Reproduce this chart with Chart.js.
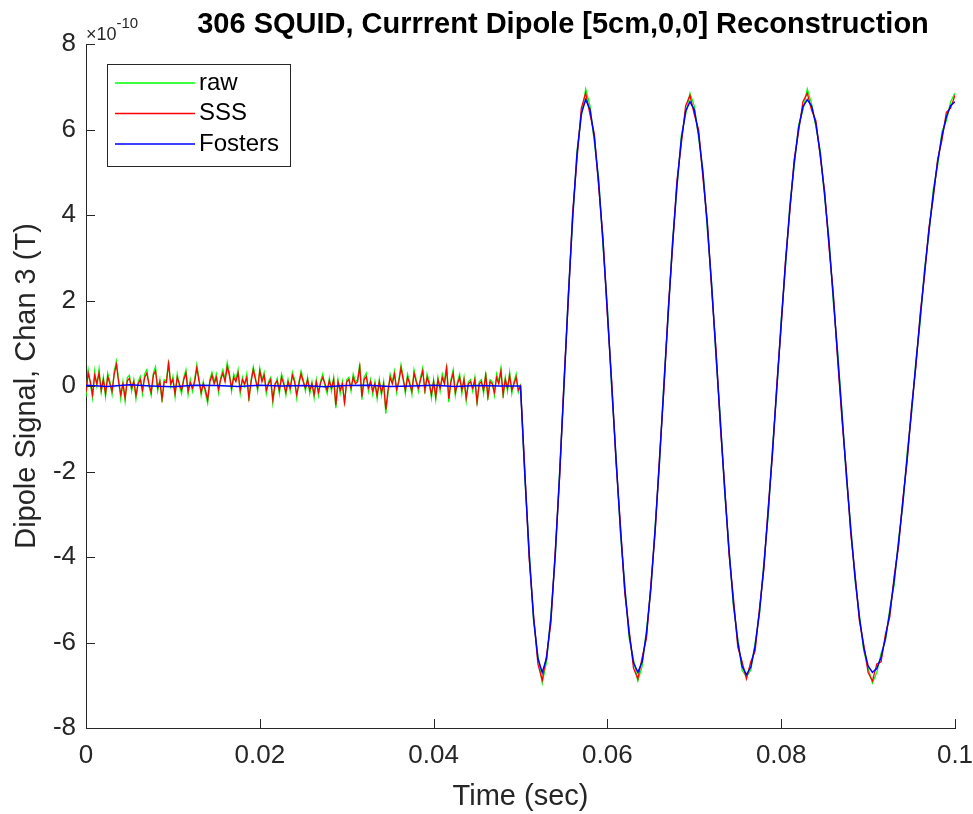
<!DOCTYPE html>
<html>
<head>
<meta charset="utf-8">
<script src="https://cdn.jsdelivr.net/npm/chart.js@4.4.0/dist/chart.umd.min.js"></script>
<style>
html,body{margin:0;padding:0;background:#fff}
#wrap{width:973px;height:814px}
</style>
</head>
<body>
<div id="wrap"><canvas id="c" width="973" height="814"></canvas></div>
<script>
// all signal values in units of 1e-10 T
const dtNoise=0.00025, dtFlat=0.0025, dtSine=0.0005, sineStart=0.05

// 0 .. 0.05 s, before the dipole is switched on
const sssNoise=[
-0.15,0.3,0.1,-0.2,0.25,0.05,0.3,-0.1,0.15,-0.18,0.22,0.05,-0.12,0.28,0.5,0.1,-0.2,0.05,-0.28,0.12,
0.18,-0.05,0.1,-0.22,0.05,0.15,-0.1,0.2,0.3,0.05,-0.15,0.25,0.35,-0.05,0.1,-0.3,0.1,0.08,0.52,0.05,
0.15,-0.18,0.2,0.05,-0.1,0.15,0.3,-0.12,0.08,-0.05,0.1,0.42,0.12,-0.15,0.05,-0.1,-0.32,0.1,0.25,0.05,
0.2,-0.08,0.15,0.3,0.1,0.45,0.25,-0.05,0.2,0.1,0.3,-0.1,0.15,0.05,0.2,-0.28,0.1,0.38,0.15,-0.05,
0.35,0.1,0.25,-0.1,0.05,0.15,-0.32,0.05,0.12,-0.1,0.2,0.05,-0.15,0.1,-0.05,0.25,0.1,-0.2,0.05,0.28,
0.1,-0.05,0.15,-0.1,0.05,-0.2,0.1,-0.15,0.08,0.2,0.05,-0.1,0.12,-0.05,0.15,-0.45,0.1,-0.1,0.05,-0.38,
0.1,0.15,-0.05,0.2,0.05,0.1,0.45,-0.25,0.15,0.22,-0.05,0.1,-0.12,0.05,-0.22,0.1,-0.15,0.05,-0.55,-0.1,
0.2,0.05,0.28,-0.08,0.1,0.42,0.15,-0.1,0.2,0.05,-0.12,0.3,0.1,-0.05,0.15,0.35,-0.1,0.2,0.05,-0.2,
0.1,-0.25,0.15,-0.05,0.2,0.05,0.42,-0.3,0.1,0.3,-0.15,0.05,0.2,-0.1,0.15,-0.28,0.05,0.1,-0.05,0.15,
-0.38,0.05,0.1,-0.1,0.25,-0.25,0.1,0.05,-0.15,0.2,0.05,0.35,-0.2,0.15,-0.05,0.25,-0.1,0.05,0.2,-0.1]
const rawNoise=[
-0.25,0.38,0.05,-0.28,0.35,0.0,0.4,-0.15,0.2,-0.25,0.3,0.1,-0.2,0.35,0.58,0.15,-0.3,0.1,-0.35,0.2,
0.25,-0.12,0.15,-0.3,0.1,0.22,-0.18,0.28,0.38,0.0,-0.22,0.3,0.45,-0.12,0.15,-0.38,0.15,0.12,0.6,0.0,
0.22,-0.25,0.28,0.0,-0.18,0.2,0.38,-0.2,0.15,-0.12,0.15,0.5,0.18,-0.22,0.1,-0.18,-0.4,0.15,0.32,0.1,
0.28,-0.15,0.2,0.38,0.15,0.55,0.3,-0.12,0.28,0.15,0.38,-0.18,0.2,0.0,0.28,-0.35,0.15,0.45,0.2,-0.12,
0.42,0.15,0.32,-0.18,0.1,0.2,-0.4,0.0,0.18,-0.18,0.28,0.1,-0.22,0.15,-0.12,0.32,0.15,-0.28,0.1,0.35,
0.15,-0.12,0.2,-0.18,0.1,-0.28,0.15,-0.22,0.12,0.28,0.0,-0.18,0.18,-0.12,0.2,-0.52,0.15,-0.18,0.1,-0.45,
0.15,0.2,-0.12,0.28,0.1,0.15,0.52,-0.32,0.2,0.3,-0.12,0.15,-0.2,0.1,-0.3,0.15,-0.22,0.1,-0.65,-0.18,
0.28,0.1,0.35,-0.15,0.15,0.5,0.2,-0.18,0.28,0.1,-0.2,0.38,0.15,-0.12,0.2,0.42,-0.18,0.28,0.1,-0.28,
0.15,-0.32,0.2,-0.12,0.28,0.1,0.5,-0.38,0.15,0.38,-0.22,0.1,0.28,-0.18,0.2,-0.35,0.1,0.15,-0.12,0.2,
-0.45,0.1,0.15,-0.18,0.32,-0.32,0.15,0.1,-0.22,0.28,0.1,0.42,-0.28,0.2,-0.12,0.32,-0.18,0.1,0.28,-0.15]
const fosFlat=[0.02,-0.01,0.03,0.0,-0.02,0.02,0.01,-0.01,0.02,0.0,0.01,-0.02,0.01,0.02,-0.01,0.0,0.02,-0.01,0.01,0.0]

// 0.05 .. 0.1 s, dipole on
const fosSine=[
0,-2.07,-3.94,-5.42,-6.37,-6.70,-6.37,-5.42,-3.94,-2.07,0,2.07,3.94,5.42,6.37,6.70,
6.47,5.80,4.74,3.35,1.73,0,-1.73,-3.35,-4.74,-5.80,-6.47,-6.70,
-6.45,-5.78,-4.72,-3.34,-1.73,0,1.72,3.33,4.70,5.76,6.42,6.65,
6.46,5.88,4.97,3.76,2.33,0.75,-0.85,-2.43,-3.86,-5.07,-5.98,-6.56,-6.75,
-6.58,-6.08,-5.28,-4.22,-2.94,-1.52,-0.03,1.47,2.89,4.17,5.23,6.03,6.53,6.70,
6.55,6.12,5.42,4.48,3.35,2.07,0.70,-0.70,-2.07,-3.35,-4.48,-5.42,-6.12,-6.55,-6.70,
-6.61,-6.34,-5.90,-5.29,-4.54,-3.68,-2.71,-1.66,-0.57,0.52,1.61,2.66,3.63,4.49,5.24,5.85,6.29,6.56,6.65]
const sssSine=[
0,-2.0,-4.05,-5.35,-6.5,-6.88,-6.3,-5.55,-3.85,-2.15,0.1,2.0,4.05,5.3,6.5,6.85,
6.35,5.9,4.65,3.45,1.65,0.1,-1.8,-3.25,-4.85,-5.7,-6.6,-6.85,
-6.35,-5.9,-4.65,-3.4,-1.65,-0.1,1.8,3.25,4.8,5.65,6.55,6.8,
6.35,6.0,4.85,3.85,2.25,0.85,-0.95,-2.35,-3.95,-4.95,-6.1,-6.45,-6.85,
-6.45,-6.2,-5.2,-4.3,-2.85,-1.6,0.05,1.4,2.95,4.1,5.3,5.95,6.65,6.85,
6.45,6.2,5.35,4.55,3.25,2.15,0.6,-0.8,-2.0,-3.45,-4.4,-5.5,-6.05,-6.7,-6.9,
-6.5,-6.45,-5.8,-5.4,-4.45,-3.75,-2.65,-1.75,-0.5,0.45,1.7,2.6,3.7,4.4,5.3,5.75,6.4,6.5,6.8]
const rawSine=[
0,-2.15,-3.85,-5.5,-6.3,-6.95,-6.45,-5.35,-4.0,-2.0,-0.05,2.15,3.85,5.5,6.3,6.95,
6.55,5.7,4.85,3.25,1.85,-0.1,-1.65,-3.45,-4.65,-5.9,-6.4,-6.9,
-6.55,-5.7,-4.8,-3.25,-1.8,0.1,1.65,3.4,4.6,5.85,6.35,6.85,
6.55,5.8,5.05,3.65,2.4,0.65,-0.75,-2.5,-3.8,-5.15,-5.9,-6.65,-6.8,
-6.65,-6.0,-5.35,-4.15,-3.05,-1.45,-0.1,1.55,2.8,4.25,5.15,6.1,6.45,6.95,
6.6,6.05,5.5,4.4,3.45,1.95,0.8,-0.6,-2.15,-3.25,-4.55,-5.35,-6.2,-6.6,-6.95,
-6.7,-6.25,-5.95,-5.2,-4.65,-3.6,-2.8,-1.55,-0.65,0.6,1.5,2.75,3.55,4.6,5.15,5.95,6.2,6.65,6.85]

const xTicks=[0,0.02,0.04,0.06,0.08,0.1]
const yTicks=[-8,-6,-4,-2,0,2,4,6,8]
const names=["raw","SSS","Fosters"]
const colors=["#00ff00","#ff0000","#0000ff"]

const tNoise=sssNoise.map((_,i)=>i*dtNoise)
const tFlat=fosFlat.map((_,i)=>i*dtFlat)
const tSine=fosSine.map((_,i)=>sineStart+i*dtSine)
const pts=(ts,ys)=>ts.map((t,i)=>({x:t,y:ys[i]}))

const ax="#262626"
const ff="'Liberation Sans', Arial, Helvetica, sans-serif"
Chart.defaults.font.family=ff
Chart.defaults.color=ax

const decor={
  id:"decor",
  afterDraw(ch){
    const c=ch.ctx,a=ch.chartArea,xs=ch.scales.x,ys=ch.scales.y
    c.save()
    // inward ticks like matlab
    c.strokeStyle=ax;c.lineWidth=1
    c.beginPath()
    xTicks.forEach(v=>{const p=Math.round(xs.getPixelForValue(v))+0.5;c.moveTo(p,a.bottom);c.lineTo(p,a.bottom-9)})
    yTicks.forEach(v=>{const p=Math.round(ys.getPixelForValue(v))+0.5;c.moveTo(a.left,p);c.lineTo(a.left+9,p)})
    c.stroke()
    // exponent
    c.fillStyle=ax;c.textBaseline="alphabetic";c.textAlign="left"
    c.font="18px "+ff
    c.fillText("\u00d710",86,40)
    const w=c.measureText("\u00d710").width
    c.font="15px "+ff
    c.fillText("-10",86+w,28)
    // title
    c.fillStyle="#000";c.textAlign="center"
    c.font="bold 29px "+ff
    c.fillText("306 SQUID, Currrent Dipole [5cm,0,0] Reconstruction",563,33)
    // legend box
    const L=107,T=64,W=183,H=102
    c.fillStyle="#fff";c.fillRect(L,T,W,H)
    c.strokeStyle=ax;c.strokeRect(L+0.5,T+0.5,W,H)
    c.font="24px "+ff;c.textAlign="left";c.textBaseline="middle"
    ch.data.datasets.forEach((d,i)=>{
      const y=83+i*30.5
      c.strokeStyle=d.borderColor;c.lineWidth=1.3
      c.beginPath();c.moveTo(115,y);c.lineTo(195,y);c.stroke()
      c.fillStyle="#000";c.fillText(d.label,199,y)
    })
    c.restore()
  }
}

new Chart(document.getElementById("c"),{
  type:"line",
  data:{datasets:[
    {label:names[0],data:pts(tNoise,rawNoise).concat(pts(tSine,rawSine)),borderColor:colors[0],order:3},
    {label:names[1],data:pts(tNoise,sssNoise).concat(pts(tSine,sssSine)),borderColor:colors[1],order:2},
    {label:names[2],data:pts(tFlat,fosFlat).concat(pts(tSine,fosSine)),borderColor:colors[2],order:1,borderWidth:1.5}
  ]},
  options:{
    responsive:false,animation:false,devicePixelRatio:1,
    elements:{point:{radius:0},line:{borderWidth:1.3,tension:0}},
    layout:{padding:{left:0,right:18,top:44,bottom:0}},
    plugins:{legend:{display:false},tooltip:{enabled:false}},
    scales:{
      x:{type:"linear",min:0,max:0.1,
        afterBuildTicks:s=>{s.ticks=xTicks.map(v=>({value:v}))},
        afterFit:s=>{s.height=86;s.paddingLeft=0;s.paddingRight=0},
        grid:{display:false,drawTicks:false},
        border:{display:true,color:ax,width:1},
        ticks:{padding:12,color:ax,font:{size:26},maxRotation:0,callback:v=>String(+v.toFixed(3))},
        title:{display:true,text:"Time (sec)",color:ax,font:{size:29},padding:{top:0,bottom:0}}
      },
      y:{type:"linear",min:-8,max:8,
        afterBuildTicks:s=>{s.ticks=yTicks.map(v=>({value:v}))},
        afterFit:s=>{s.width=86},
        grid:{display:false,drawTicks:false},
        border:{display:true,color:ax,width:1},
        ticks:{padding:10,color:ax,font:{size:26}},
        title:{display:true,text:"Dipole Signal, Chan 3 (T)",color:ax,font:{size:29},padding:{top:10,bottom:0}}
      }
    }
  },
  plugins:[decor]
})
</script>
</body>
</html>
